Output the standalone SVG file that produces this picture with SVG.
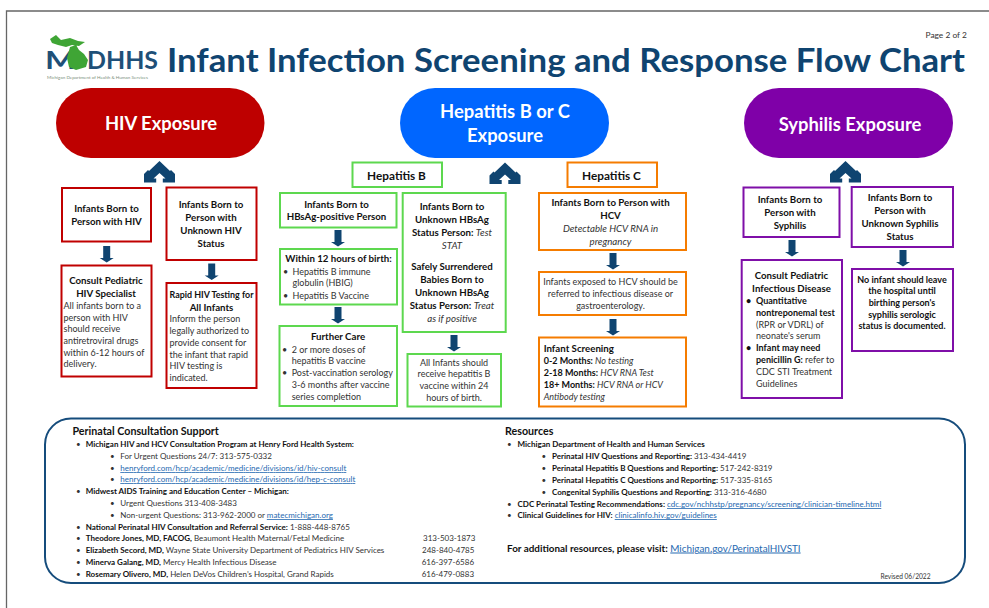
<svg xmlns="http://www.w3.org/2000/svg" width="989" height="608" viewBox="0 0 989 608">
<style>
text{font-family:Lato,"Liberation Sans",sans-serif;fill:#333}
.c{text-anchor:middle}
.b{font-weight:700;fill:#111}
.bx{fill:#fff;stroke-width:2}
.r{stroke:#C00000}.g{stroke:#5DD84F}.o{stroke:#F57C00}.p{stroke:#7F0FA8}
.h{font-size:9.7px}
.t{font-size:9px}
.f{font-size:8px}
.hd{font-size:10.7px;font-weight:700;fill:#111}
.tab{font-size:11.8px;font-weight:700;fill:#111}
text.pill{fill:#fff;font-weight:700;font-size:18.4px}
.l{fill:#2468B0;text-decoration:underline}
.i{font-style:italic}
</style>
<defs>
<path id="dn" d="M-3.5 0H3.500V12H7L0 16.500L-7 12H-3.500Z" fill="#0F4470"/>
<path id="up" d="M0 0L10.500 10L11.500 9L15.500 13V21.500H3.300V17.500H6L0 12L-6 17.500H-3.300V21.500H-15.500V13L-11.500 9L-10.500 10Z" fill="#0F4470"/>
</defs>
<rect width="989" height="608" fill="#fff"/>
<path id="frame" d="M6.500 608V11H989" fill="none" stroke="#666" stroke-width="1.300"/>

<g id="logo">
<text x="45" y="69" font-size="25" font-weight="700" textLength="31" lengthAdjust="spacingAndGlyphs" style="fill:#1F5078">M</text>
<text x="87" y="69" font-size="25" font-weight="700" textLength="71" lengthAdjust="spacingAndGlyphs" style="fill:#1F5078">DHHS</text>
<path d="M50 39L56 35L61 40L70 38L78 41L85 42L79 46L72 45L66 47L58 45L52 43ZM70 47L76 45L79 50L84 54L88 60L86 67L76 70L69 67L67 58Z" fill="#3FA535"/>
<text x="47" y="78.500" font-size="4.500" textLength="101" lengthAdjust="spacingAndGlyphs" style="fill:#7A8F7A">Michigan Department of Health &amp; Human Services</text>
</g>
<text id="title" x="167" y="72" font-size="33" font-weight="700" textLength="798" lengthAdjust="spacingAndGlyphs" style="fill:#0F4470">Infant Infection Screening and Response Flow Chart</text>
<text id="page" x="925.500" y="38" font-size="8.400">Page 2 of 2</text>

<g id="connectors">
<use href="#up" x="159.500" y="161"/>
<use href="#up" x="505" y="162.500"/>
<use href="#up" x="845.500" y="161"/>
<use href="#dn" x="106.700" y="246"/>
<use href="#dn" x="211.700" y="263.500"/>
<use href="#dn" x="338" y="230"/>
<use href="#dn" x="338" y="307"/>
<use href="#dn" x="454" y="335"/>
<use href="#dn" x="613" y="253"/>
<use href="#dn" x="613" y="319"/>
<use href="#dn" x="792" y="240"/>
<use href="#dn" x="903" y="250"/>
</g>

<g id="pill-hiv"><rect x="56" y="88" width="208.500" height="70" rx="35" fill="#BE0000"/><text class="pill c" x="161" y="130">HIV Exposure</text></g>
<g id="pill-hep"><rect x="400" y="88" width="209" height="70" rx="35" fill="#0066FF"/><text class="pill c" x="505" y="118">Hepatitis B or C</text><text class="pill c" x="505" y="142">Exposure</text></g>
<g id="pill-syph"><rect x="744" y="88" width="209" height="70" rx="35" fill="#7F00A8"/><text class="pill c" x="850" y="131">Syphilis Exposure</text></g>

<g id="hiv-1"><rect class="bx r" x="62" y="188" width="89" height="53.500"/><text class="b h c" x="106.500" y="212">Infants Born to</text><text class="b h c" x="106.500" y="225">Person with HIV</text></g>
<g id="hiv-2"><rect class="bx r" x="166.500" y="187.500" width="90" height="72.500"/><text class="b h c" x="211" y="207.500">Infants Born to</text><text class="b h c" x="211" y="220.500">Person with</text><text class="b h c" x="211" y="233.500">Unknown HIV</text><text class="b h c" x="211" y="246.500">Status</text></g>
<g id="hiv-3"><rect class="bx r" x="61.500" y="265.500" width="90" height="111"/><text class="b h c" x="106" y="283.500">Consult Pediatric</text><text class="b h c" x="106" y="296.500">HIV Specialist</text>
<text class="t" x="63.500" y="308.500">All infants born to a</text><text class="t" x="63.500" y="320.500">person with HIV</text><text class="t" x="63.500" y="332">should receive</text><text class="t" x="63.500" y="343.500">antiretroviral drugs</text><text class="t" x="63.500" y="355.500">within 6-12 hours of</text><text class="t" x="63.500" y="367">delivery.</text></g>
<g id="hiv-4"><rect class="bx r" x="166.500" y="283" width="90" height="105"/><text class="b h" x="169.500" y="298" textLength="84" lengthAdjust="spacingAndGlyphs">Rapid HIV Testing for</text><text class="b h c" x="211.500" y="311">All Infants</text>
<text class="t" x="169.500" y="322">Inform the person</text><text class="t" x="169.500" y="333.500">legally authorized to</text><text class="t" x="169.500" y="345.500">provide consent for</text><text class="t" x="169.500" y="357.500">the infant that rapid</text><text class="t" x="169.500" y="369">HIV testing is</text><text class="t" x="169.500" y="381">indicated.</text></g>

<g id="tab-hepb"><rect class="bx g" x="352.500" y="162.500" width="89.500" height="24.500"/><text class="tab c" x="396.500" y="180">Hepatitis B</text></g>
<g id="tab-hepc"><rect class="bx o" x="567.500" y="162.500" width="89.500" height="24.500"/><text class="tab c" x="611.500" y="180">Hepatitis C</text></g>

<g id="hepb-1"><rect class="bx g" x="280" y="193" width="116.500" height="34.500"/><text class="b h c" x="336.500" y="207.500">Infants Born to</text><text class="b h c" x="336.500" y="220">HBsAg-positive Person</text></g>
<g id="hepb-2"><rect class="bx g" x="280" y="249" width="117" height="55.500"/><text class="b h c" x="338.500" y="261.500">Within 12 hours of birth:</text>
<text class="t" x="283" y="274.700">•</text><text class="t" x="292.500" y="274.700">Hepatitis B immune</text><text class="t" x="292.500" y="286">globulin (HBIG)</text><text class="t" x="283" y="298.700">•</text><text class="t" x="292.500" y="298.700">Hepatitis B Vaccine</text></g>
<g id="hepb-3"><rect class="bx g" x="279.500" y="326" width="117.500" height="80"/><text class="b h c" x="338" y="340">Further Care</text>
<text class="t" x="282" y="353">•</text><text class="t" x="291.700" y="353">2 or more doses of</text><text class="t" x="291.700" y="364">hepatitis B vaccine</text><text class="t" x="282" y="376">•</text><text class="t" x="291.700" y="376">Post-vaccination serology</text><text class="t" x="291.700" y="388">3-6 months after vaccine</text><text class="t" x="291.700" y="400">series completion</text></g>
<g id="hepb-4"><rect class="bx g" x="402.700" y="193" width="103" height="139"/>
<text class="b h c" x="452" y="209.500">Infants Born to</text><text class="b h c" x="452" y="222.500">Unknown HBsAg</text><text class="h c" x="452" y="235.500"><tspan class="b">Status Person: </tspan><tspan class="i">Test</tspan></text><text class="h c i" x="452" y="248.500">STAT</text>
<text class="b h c" x="452" y="269.500">Safely Surrendered</text><text class="b h c" x="452" y="282.700">Babies Born to</text><text class="b h c" x="452" y="295.700">Unknown HBsAg</text><text class="h c" x="452" y="308.700"><tspan class="b">Status Person: </tspan><tspan class="i">Treat</tspan></text><text class="h c i" x="452" y="321.700">as if positive</text></g>
<g id="hepb-5"><rect class="bx g" x="407.500" y="354" width="93.500" height="52.500"/><text class="t c" x="454" y="365.700">All Infants should</text><text class="t c" x="454" y="376.700">receive hepatitis B</text><text class="t c" x="454" y="388.700">vaccine within 24</text><text class="t c" x="454" y="400.700">hours of birth.</text></g>

<g id="hepc-1"><rect class="bx o" x="539" y="193" width="147" height="57"/><text class="b h c" x="610.500" y="205.700">Infants Born to Person with</text><text class="b h c" x="610.500" y="218.700">HCV</text><text class="h c i" x="610.500" y="231.700">Detectable HCV RNA in</text><text class="h c i" x="610.500" y="244.700">pregnancy</text></g>
<g id="hepc-2"><rect class="bx o" x="539" y="272" width="147" height="43"/><text class="t c" x="610.500" y="284.700">Infants exposed to HCV should be</text><text class="t c" x="610.500" y="296.700">referred to infectious disease or</text><text class="t c" x="610.500" y="308.700">gastroenterology.</text></g>
<g id="hepc-3"><rect class="bx o" x="539" y="337.500" width="147" height="69"/><text class="b h" x="543.700" y="351.700">Infant Screening</text>
<text class="t" x="543.700" y="363.700"><tspan class="b">0-2 Months: </tspan><tspan class="i">No testing</tspan></text><text class="t" x="543.700" y="375.700"><tspan class="b">2-18 Months: </tspan><tspan class="i">HCV RNA Test</tspan></text><text class="t" x="543.700" y="387.700"><tspan class="b">18+ Months: </tspan><tspan class="i"> HCV RNA or HCV</tspan></text><text class="t i" x="543.700" y="399.700">Antibody testing</text></g>

<g id="syph-1"><rect class="bx p" x="743.500" y="187.500" width="96" height="49.500"/><text class="b h c" x="790" y="202.700">Infants Born to</text><text class="b h c" x="790" y="215.700">Person with</text><text class="b h c" x="790" y="228.700">Syphilis</text></g>
<g id="syph-2"><rect class="bx p" x="851.700" y="187" width="101.300" height="60"/><text class="b h c" x="900" y="200.700">Infants Born to</text><text class="b h c" x="900" y="213.700">Person with</text><text class="b h c" x="900" y="226.700">Unknown Syphilis</text><text class="b h c" x="900" y="239.700">Status</text></g>
<g id="syph-3"><rect class="bx p" x="741.700" y="260" width="100.300" height="138"/><text class="b h c" x="791.500" y="278.700">Consult Pediatric</text><text class="b h c" x="791.500" y="291.700">Infectious Disease</text>
<text class="t b" x="746" y="304">•</text><text class="t b" x="756" y="304">Quantitative</text><text class="t b" x="756" y="316">nontreponemal test</text><text class="t" x="756" y="327.700">(RPR or VDRL) of</text><text class="t" x="756" y="339.300">neonate's serum</text>
<text class="t b" x="746" y="351">•</text><text class="t b" x="756" y="351">Infant may need</text><text class="t" x="756" y="363"><tspan class="b">penicillin G:</tspan> refer to</text><text class="t" x="756" y="375">CDC STI Treatment</text><text class="t" x="756" y="386.700">Guidelines</text></g>
<g id="syph-4"><rect class="bx p" x="852" y="269" width="101" height="82"/><text class="t b c" x="902" y="283">No infant should leave</text><text class="t b c" x="902" y="294.300">the hospital until</text><text class="t b c" x="902" y="306">birthing person's</text><text class="t b c" x="902" y="318">syphilis serologic</text><text class="t b c" x="902" y="329.300">status is documented.</text></g>

<g id="support">
<rect x="45" y="418.500" width="920" height="164.500" rx="26" fill="#fff" stroke="#154C7C" stroke-width="2"/>
<text class="hd" x="72.500" y="435">Perinatal Consultation Support</text>
<text class="f" x="76" y="447">•</text><text class="f b" x="85.700" y="447">Michigan HIV and HCV Consultation Program at Henry Ford Health System:</text>
<text class="f" x="110" y="458.700">•</text><text class="f" x="120.300" y="458.700">For Urgent Questions 24/7: 313-575-0332</text>
<text class="f" x="110" y="471">•</text><text class="f l" x="120.300" y="471" textLength="226">henryford.com/hcp/academic/medicine/divisions/id/hiv-consult</text>
<text class="f" x="110" y="482">•</text><text class="f l" x="120.300" y="482" textLength="235">henryford.com/hcp/academic/medicine/divisions/id/hep-c-consult</text>
<text class="f" x="76" y="494">•</text><text class="f b" x="85.700" y="494">Midwest AIDS Training and Education Center – Michigan:</text>
<text class="f" x="110" y="506">•</text><text class="f" x="120.300" y="506">Urgent Questions 313-408-3483</text>
<text class="f" x="110" y="518">•</text><text class="f" x="120.300" y="518">Non-urgent Questions: 313-962-2000 or <tspan class="l">matecmichigan.org</tspan></text>
<text class="f" x="76" y="530">•</text><text class="f" x="85.700" y="530"><tspan class="b">National Perinatal HIV Consultation and Referral Service:</tspan> 1-888-448-8765</text>
<text class="f" x="76" y="541">•</text><text class="f" x="85.700" y="541"><tspan class="b">Theodore Jones, MD, FACOG,</tspan> Beaumont Health Maternal/Fetal Medicine</text><text class="f" x="423" y="541">313-503-1873</text>
<text class="f" x="76" y="553">•</text><text class="f" x="85.700" y="553"><tspan class="b">Elizabeth Secord, MD,</tspan> Wayne State University Department of Pediatrics HIV Services</text><text class="f" x="422" y="553">248-840-4785</text>
<text class="f" x="76" y="565">•</text><text class="f" x="85.700" y="565"><tspan class="b">Minerva Galang, MD,</tspan> Mercy Health Infectious Disease</text><text class="f" x="421.700" y="565">616-397-6586</text>
<text class="f" x="76" y="577">•</text><text class="f" x="85.700" y="577"><tspan class="b">Rosemary Olivero, MD,</tspan> Helen DeVos Children’s Hospital, Grand Rapids</text><text class="f" x="421.700" y="577">616-479-0883</text>

<text class="hd" x="505" y="435">Resources</text>
<text class="f" x="507" y="447">•</text><text class="f b" x="517.500" y="447">Michigan Department of Health and Human Services</text>
<text class="f" x="541.500" y="459">•</text><text class="f" x="552" y="459"><tspan class="b">Perinatal HIV Questions and Reporting:</tspan> 313-434-4419</text>
<text class="f" x="541.500" y="471">•</text><text class="f" x="552" y="471"><tspan class="b">Perinatal Hepatitis B Questions and Reporting:</tspan> 517-242-8319</text>
<text class="f" x="541.500" y="483">•</text><text class="f" x="552" y="483"><tspan class="b">Perinatal Hepatitis C Questions and Reporting:</tspan> 517-335-8165</text>
<text class="f" x="541.500" y="495">•</text><text class="f" x="552" y="495"><tspan class="b">Congenital Syphilis Questions and Reporting:</tspan> 313-316-4680</text>
<text class="f" x="507" y="507">•</text><text class="f" x="517.500" y="507"><tspan class="b">CDC Perinatal Testing Recommendations:</tspan> <tspan class="l">cdc.gov/nchhstp/pregnancy/screening/clinician-timeline.html</tspan></text>
<text class="f" x="507" y="518">•</text><text class="f" x="517.500" y="518"><tspan class="b">Clinical Guidelines for HIV:</tspan> <tspan class="l">clinicalinfo.hiv.gov/guidelines</tspan></text>
<text font-size="9.900" x="507" y="551.500"><tspan class="b">For additional resources, please visit:</tspan> <tspan class="l">Michigan.gov/PerinatalHIVSTI</tspan></text>
<text font-size="6.600" x="880.500" y="579">Revised 06/2022</text>
</g>
</svg>
